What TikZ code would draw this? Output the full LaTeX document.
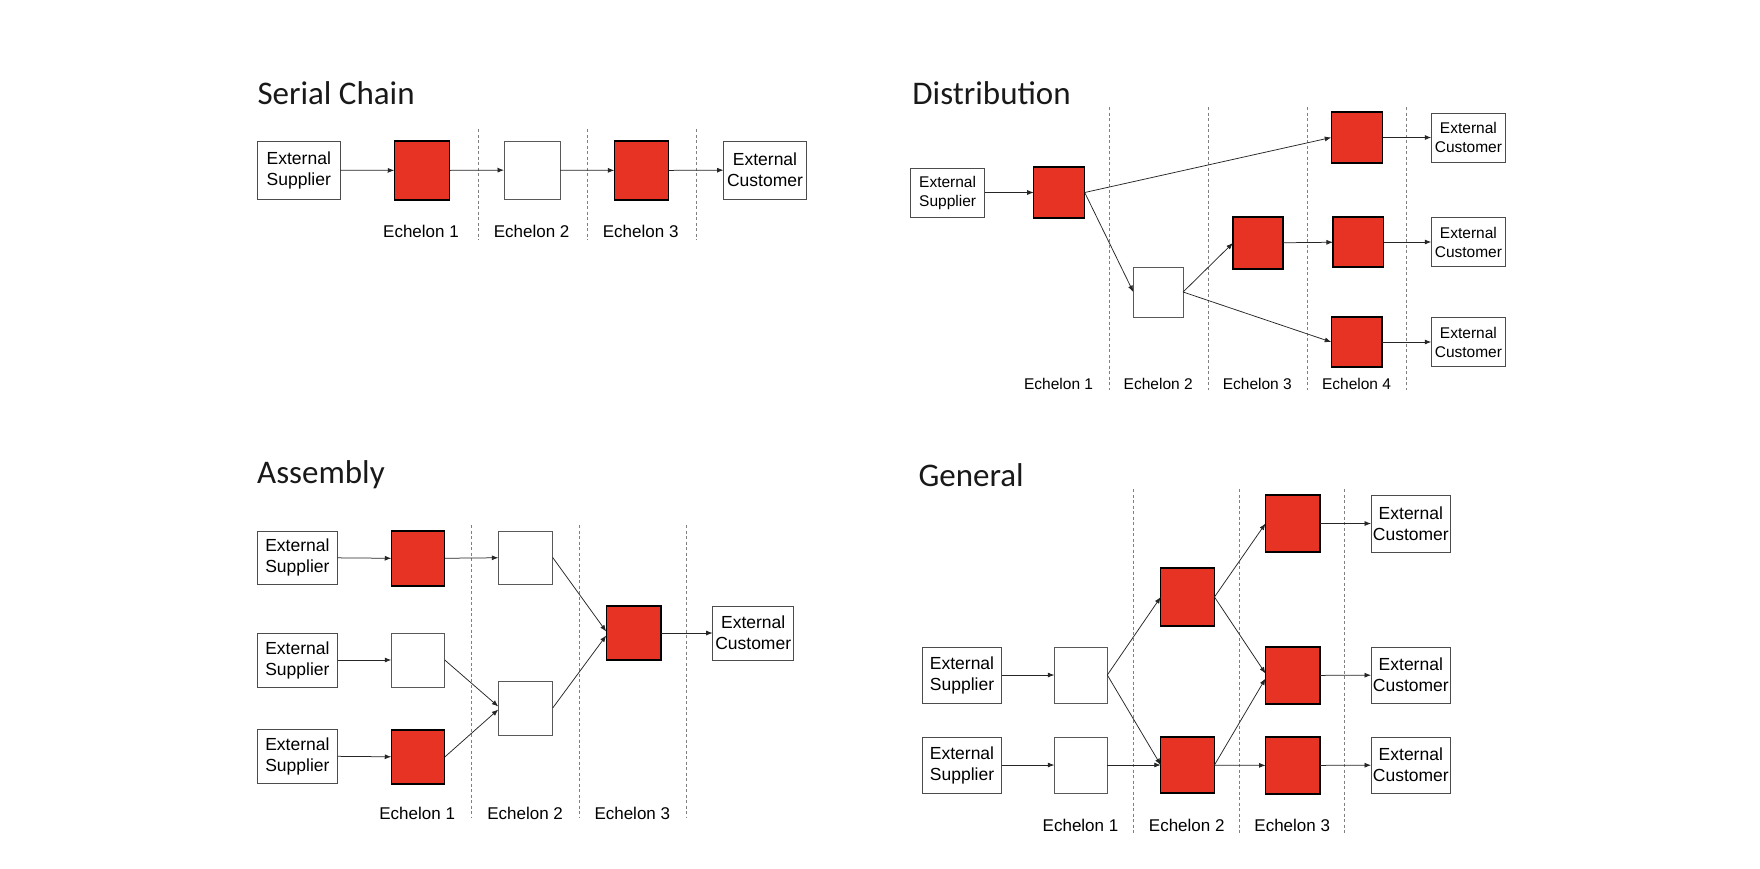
\documentclass[tikz,border=0pt]{standalone}
\usepackage{fontspec}
\setmainfont{Liberation Sans}
\newfontfamily\titlefont{Carlito}
\usetikzlibrary{arrows.meta,calc}
\definecolor{boxred}{HTML}{E63323}
\begin{document}
\begin{tikzpicture}[x=1pt,y=-1pt,
  base/.style={inner sep=0pt,outer sep=0pt,align=center},
  ext/.style={base,draw=black!70,line width=0.9pt,fill=white,font=\fontsize{17.5}{21}\selectfont},
  exts/.style={base,draw=black!70,line width=0.9pt,fill=white,font=\fontsize{15.5}{19}\selectfont},
  redbox/.style={base,draw=black,line width=1.4pt,fill=boxred},
  whtbox/.style={base,draw=black!65,line width=0.9pt,fill=white},
  arr/.style={-{Latex[length=6.5pt,width=5pt]},line width=0.75pt,draw=black!85},
  sepline/.style={draw=black!50,line width=0.8pt,dash pattern=on 3pt off 2.5pt},
  ech/.style={base,font=\fontsize{17}{20}\selectfont},
  echs/.style={base,font=\fontsize{15.5}{18}\selectfont},
  ttl/.style={base,anchor=base west,text=black!90,font=\titlefont\fontsize{33}{38}\selectfont}
]
\useasboundingbox[fill=white] (0,0) rectangle (1760,868);

% ===== Serial Chain =====
\node[ttl] (t1) at (257.5,104) {Serial Chain};
\node[ext,minimum width=83,minimum height=58] (ssup) at (298.8,170) {External\\Supplier};
\node[redbox,minimum width=55.5,minimum height=59] (s1) at (422,170.5) {};
\node[whtbox,minimum width=56,minimum height=58] (s2) at (532,170) {};
\node[redbox,minimum width=54.3,minimum height=59] (s3) at (641.5,170.5) {};
\node[ext,minimum width=83,minimum height=58] (scust) at (765,170) {External\\Customer};
\foreach \x in {478,587.1,696.2} \draw[sepline] (\x,129) -- (\x,240);
\node[ech] (se1) at (421,231) {Echelon 1};
\node[ech] (se2) at (531.6,231) {Echelon 2};
\node[ech] (se3) at (640.7,231) {Echelon 3};
\draw[arr] (ssup) -- (s1);
\draw[arr] (s1) -- (s2);
\draw[arr] (s2) -- (s3);
\draw[arr] (s3) -- (scust);

% ===== Distribution =====
\node[ttl] (t2) at (912.4,104) {Distribution};
\node[exts,minimum width=74.3,minimum height=49] (dsup) at (947.6,192.5) {External\\Supplier};
\node[redbox,minimum width=51,minimum height=51] (d1) at (1059.2,192.5) {};
\node[whtbox,minimum width=49.8,minimum height=50] (d2) at (1158.2,292) {};
\node[redbox,minimum width=50.2,minimum height=52] (d3) at (1258,243) {};
\node[redbox,minimum width=51.5,minimum height=51] (d4a) at (1357,137.5) {};
\node[redbox,minimum width=50.6,minimum height=50] (d4b) at (1358.2,242) {};
\node[redbox,minimum width=50.6,minimum height=50] (d4c) at (1356.5,342) {};
\node[exts,minimum width=74.3,minimum height=49] (dc1) at (1468.4,137.5) {External\\Customer};
\node[exts,minimum width=74.3,minimum height=49] (dc2) at (1468.4,242) {External\\Customer};
\node[exts,minimum width=74.3,minimum height=49] (dc3) at (1468.4,342) {External\\Customer};
\foreach \x in {1109.2,1208.4,1307.1,1406.3} \draw[sepline] (\x,107) -- (\x,390);
\node[echs] (de1) at (1058.6,384) {Echelon 1};
\node[echs] (de2) at (1158.2,384) {Echelon 2};
\node[echs] (de3) at (1257.3,384) {Echelon 3};
\node[echs] (de4) at (1356.5,384) {Echelon 4};
\draw[arr] (dsup) -- (d1);
\draw[arr] (d1.east) -- (d4a.west);
\draw[arr] (d1.east) -- (d2.west);
\draw[arr] (d2.east) -- (d3.west);
\draw[arr] (d2.east) -- (d4c.west);
\draw[arr] (d3) -- (d4b);
\draw[arr] (d4a) -- (dc1);
\draw[arr] (d4b) -- (dc2);
\draw[arr] (d4c) -- (dc3);

% ===== Assembly =====
\node[ttl] (t3) at (257.2,483) {Assembly};
\node[ext,minimum width=80.4,minimum height=53] (as1) at (297.4,557.5) {External\\Supplier};
\node[ext,minimum width=80.4,minimum height=54] (as2) at (297.4,660) {External\\Supplier};
\node[ext,minimum width=80.4,minimum height=54] (as3) at (297.4,756) {External\\Supplier};
\node[redbox,minimum width=53.5,minimum height=55] (a11) at (418,558.5) {};
\node[whtbox,minimum width=53.5,minimum height=54] (a12) at (418,660) {};
\node[redbox,minimum width=53.5,minimum height=54] (a13) at (418,757) {};
\node[whtbox,minimum width=54.4,minimum height=53] (a21) at (525.5,557.5) {};
\node[whtbox,minimum width=54.4,minimum height=54] (a22) at (525.5,708) {};
\node[redbox,minimum width=54.8,minimum height=54] (a3) at (633.6,633) {};
\node[ext,minimum width=81.2,minimum height=54] (acust) at (753.2,633) {External\\Customer};
\foreach \x in {471.5,579.5,686.6} \draw[sepline] (\x,525) -- (\x,818);
\node[ech] (ae1) at (417.2,813) {Echelon 1};
\node[ech] (ae2) at (525.1,813) {Echelon 2};
\node[ech] (ae3) at (632.3,813) {Echelon 3};
\draw[arr] (as1) -- (a11);
\draw[arr] (as2) -- (a12);
\draw[arr] (as3) -- (a13);
\draw[arr] (a11) -- (a21);
\draw[arr] (a12.east) -- ($(a22.west)+(0,-1.5)$);
\draw[arr] (a13.east) -- ($(a22.west)+(0,1.5)$);
\draw[arr] (a21.east) -- ($(a3.west)+(0,-1.5)$);
\draw[arr] (a22.east) -- ($(a3.west)+(0,2.5)$);
\draw[arr] (a3) -- (acust);

% ===== General =====
\node[ttl] (t4) at (918.5,486) {General};
\node[ext,minimum width=79.5,minimum height=56] (gs1) at (962,675) {External\\Supplier};
\node[ext,minimum width=79.5,minimum height=56] (gs2) at (962,765) {External\\Supplier};
\node[whtbox,minimum width=53,minimum height=56] (g11) at (1080.8,675) {};
\node[whtbox,minimum width=53,minimum height=56] (g12) at (1080.8,765) {};
\node[redbox,minimum width=53.7,minimum height=58] (g21) at (1187.6,597) {};
\node[redbox,minimum width=53.7,minimum height=56] (g22) at (1187.6,765) {};
\node[redbox,minimum width=54.4,minimum height=57] (g31) at (1292.7,523.5) {};
\node[redbox,minimum width=54.4,minimum height=57] (g32) at (1292.7,675.5) {};
\node[redbox,minimum width=54.4,minimum height=57] (g33) at (1292.7,765.5) {};
\node[ext,minimum width=79.5,minimum height=57] (gc1) at (1410.8,523.5) {External\\Customer};
\node[ext,minimum width=79.5,minimum height=56] (gc2) at (1410.8,675) {External\\Customer};
\node[ext,minimum width=79.5,minimum height=56] (gc3) at (1410.8,765) {External\\Customer};
\foreach \x in {1133.8,1239.2,1344.7} \draw[sepline] (\x,489) -- (\x,833);
\node[ech] (ge1) at (1080.5,825) {Echelon 1};
\node[ech] (ge2) at (1186.7,825) {Echelon 2};
\node[ech] (ge3) at (1292.2,825) {Echelon 3};
\draw[arr] (gs1) -- (g11);
\draw[arr] (gs2) -- (g12);
\draw[arr] (g11.east) -- (g21.west);
\draw[arr] (g11.east) -- (g22.west);
\draw[arr] (g12) -- (g22);
\draw[arr] (g21.east) -- (g31.west);
\draw[arr] (g21.east) -- ($(g32.west)+(0,-2)$);
\draw[arr] (g22.east) -- ($(g32.west)+(0,3)$);
\draw[arr] (g22) -- (g33);
\draw[arr] (g31) -- (gc1);
\draw[arr] (g32) -- (gc2);
\draw[arr] (g33) -- (gc3);
\end{tikzpicture}
\end{document}
